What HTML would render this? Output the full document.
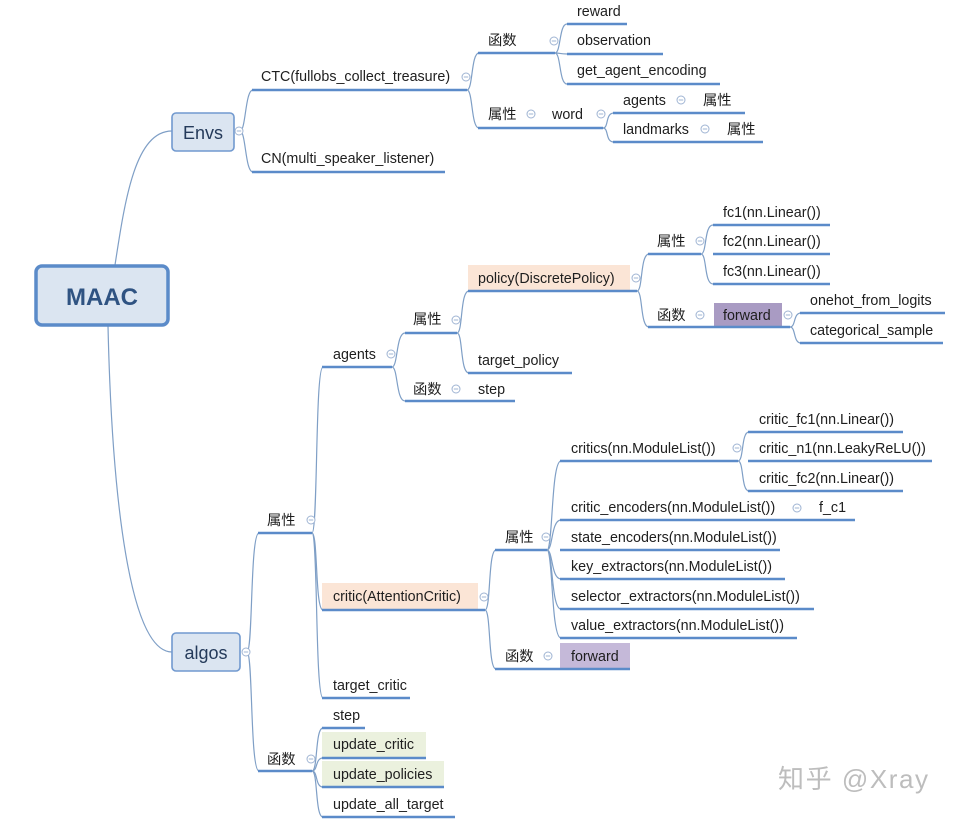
<!DOCTYPE html>
<html><head><meta charset="utf-8"><style>
html,body{margin:0;padding:0;background:#fff;}
svg text{font-family:"Liberation Sans","Noto Sans CJK SC",sans-serif;font-size:14.3px;fill:#1e1e1e;}
.u{stroke:#5b8bc9;stroke-width:2.5;fill:none}
.c{stroke:#7f9fc6;stroke-width:1.2;fill:none}
.o{fill:#fff;stroke:#9fb4d3;stroke-width:1}
.m{stroke:#9fb4d3;stroke-width:1}
</style></head><body>
<svg width="953" height="822" viewBox="0 0 953 822" xmlns="http://www.w3.org/2000/svg">
<defs>
<g id="ci"><circle class="o" cx="0" cy="0" r="4"/><line class="m" x1="-2.2" y1="0" x2="2.2" y2="0"/></g>
</defs>
<rect x="468" y="265" width="162" height="26" fill="#fbe5d6"/>
<rect x="322" y="583" width="156" height="27" fill="#fbe5d6"/>
<rect x="714" y="303" width="68" height="24" fill="#a99bc3"/>
<rect x="560" y="643" width="70" height="26" fill="#c5b9d9"/>
<rect x="322" y="732" width="104" height="26" fill="#ebf1de"/>
<rect x="322" y="761" width="122" height="26" fill="#ebf1de"/>

<g class="c">
<path d="M115 265 C125 200 135 131 172 131"/>
<path d="M108 326 C112 500 130 652 172 652"/>
<path d="M240 131 C246 131 245 90 253 90"/>
<path d="M240 131 C246 131 245 172 253 172"/>
<path d="M467 90 C473 90 471 53 479 53"/>
<path d="M467 90 C473 90 471 128 479 128"/>
<path d="M555 53 C561 53 559 24 567 24"/>
<path d="M555 53 C561 53 559 54 567 54"/>
<path d="M555 53 C561 53 559 84 567 84"/>
<path d="M603 128 C609 128 605 113 614 113"/>
<path d="M603 128 C609 128 605 142 614 142"/>
<path d="M247 652 C253 652 250 533 259 533"/>
<path d="M247 652 C253 652 250 771 259 771"/>
<path d="M312 533 C318 533 315 367 323 367"/>
<path d="M312 533 C318 533 315 610 323 610"/>
<path d="M312 533 C318 533 315 698 323 698"/>
<path d="M312 771 C318 771 315 728 323 728"/>
<path d="M312 771 C318 771 315 758 323 758"/>
<path d="M312 771 C318 771 315 787 323 787"/>
<path d="M312 771 C318 771 315 817 323 817"/>
<path d="M392 367 C398 367 396 333 405 333"/>
<path d="M392 367 C398 367 396 401 405 401"/>
<path d="M457 333 C463 333 460 291 469 291"/>
<path d="M457 333 C463 333 460 373 469 373"/>
<path d="M637 291 C643 291 640 254 649 254"/>
<path d="M637 291 C643 291 640 327 649 327"/>
<path d="M701 254 C707 254 704 225 713 225"/>
<path d="M701 254 C707 254 704 284 713 284"/>
<path d="M790 327 C796 327 793 313 801 313"/>
<path d="M790 327 C796 327 793 343 801 343"/>
<path d="M485 610 C491 610 488 550 496 550"/>
<path d="M485 610 C491 610 488 669 496 669"/>
<path d="M547 550 C553 550 551 461 561 461"/>
<path d="M547 550 C553 550 551 520 561 520"/>
<path d="M547 550 C553 550 551 579 561 579"/>
<path d="M547 550 C553 550 551 609 561 609"/>
<path d="M547 550 C553 550 551 638 561 638"/>
<path d="M738 461 C744 461 741 432 749 432"/>
<path d="M738 461 C744 461 741 491 749 491"/>
</g>

<g class="u">
<line x1="252" y1="90" x2="467" y2="90"/>
<line x1="252" y1="172" x2="445" y2="172"/>
<line x1="478" y1="53" x2="555" y2="53"/>
<line x1="567" y1="24" x2="627" y2="24"/>
<line x1="567" y1="54" x2="663" y2="54"/>
<line x1="567" y1="84" x2="720" y2="84"/>
<line x1="478" y1="128" x2="603" y2="128"/>
<line x1="613" y1="113" x2="745" y2="113"/>
<line x1="613" y1="142" x2="763" y2="142"/>
<line x1="258" y1="533" x2="312" y2="533"/>
<line x1="258" y1="771" x2="312" y2="771"/>
<line x1="322" y1="367" x2="392" y2="367"/>
<line x1="322" y1="610" x2="485" y2="610"/>
<line x1="322" y1="698" x2="410" y2="698"/>
<line x1="322" y1="728" x2="365" y2="728"/>
<line x1="322" y1="758" x2="426" y2="758"/>
<line x1="322" y1="787" x2="444" y2="787"/>
<line x1="322" y1="817" x2="455" y2="817"/>
<line x1="405" y1="333" x2="457" y2="333"/>
<line x1="405" y1="401" x2="515" y2="401"/>
<line x1="468" y1="291" x2="637" y2="291"/>
<line x1="468" y1="373" x2="572" y2="373"/>
<line x1="648" y1="254" x2="701" y2="254"/>
<line x1="713" y1="225" x2="830" y2="225"/>
<line x1="713" y1="254" x2="830" y2="254"/>
<line x1="713" y1="284" x2="830" y2="284"/>
<line x1="648" y1="327" x2="790" y2="327"/>
<line x1="800" y1="313" x2="945" y2="313"/>
<line x1="800" y1="343" x2="943" y2="343"/>
<line x1="495" y1="550" x2="547" y2="550"/>
<line x1="495" y1="669" x2="630" y2="669"/>
<line x1="560" y1="461" x2="738" y2="461"/>
<line x1="748" y1="432" x2="903" y2="432"/>
<line x1="748" y1="461" x2="932" y2="461"/>
<line x1="748" y1="491" x2="903" y2="491"/>
<line x1="560" y1="520" x2="855" y2="520"/>
<line x1="560" y1="550" x2="780" y2="550"/>
<line x1="560" y1="579" x2="785" y2="579"/>
<line x1="560" y1="609" x2="814" y2="609"/>
<line x1="560" y1="638" x2="797" y2="638"/>
</g>

<rect x="36" y="266" width="132" height="59" rx="6" fill="#dbe5f1" stroke="#5b8bc9" stroke-width="3.5"/>
<text x="102" y="305" text-anchor="middle" style="font-size:24px;font-weight:bold;fill:#2f5382">MAAC</text>
<rect x="172" y="113" width="62" height="38" rx="4" fill="#dbe5f1" stroke="#7199cf" stroke-width="1.6"/>
<text x="203" y="139" text-anchor="middle" style="font-size:18px;fill:#243a5a">Envs</text>
<rect x="172" y="633" width="68" height="38" rx="4" fill="#dbe5f1" stroke="#7199cf" stroke-width="1.6"/>
<text x="206" y="659" text-anchor="middle" style="font-size:18px;fill:#243a5a">algos</text>

<use href="#ci" x="239" y="131"/>
<use href="#ci" x="466" y="77"/>
<use href="#ci" x="554" y="41"/>
<use href="#ci" x="531" y="114"/>
<use href="#ci" x="601" y="114"/>
<use href="#ci" x="681" y="100"/>
<use href="#ci" x="705" y="129"/>
<use href="#ci" x="246" y="652"/>
<use href="#ci" x="311" y="520"/>
<use href="#ci" x="311" y="759"/>
<use href="#ci" x="391" y="354"/>
<use href="#ci" x="456" y="320"/>
<use href="#ci" x="456" y="389"/>
<use href="#ci" x="636" y="278"/>
<use href="#ci" x="700" y="241"/>
<use href="#ci" x="700" y="315"/>
<use href="#ci" x="788" y="315"/>
<use href="#ci" x="484" y="597"/>
<use href="#ci" x="546" y="537"/>
<use href="#ci" x="548" y="656"/>
<use href="#ci" x="737" y="448"/>
<use href="#ci" x="797" y="508"/>

<text x="261" y="81">CTC(fullobs_collect_treasure)</text>
<text x="261" y="163">CN(multi_speaker_listener)</text>
<text x="488" y="45">函数</text>
<text x="577" y="16">reward</text>
<text x="577" y="45">observation</text>
<text x="577" y="75">get_agent_encoding</text>
<text x="488" y="119">属性</text>
<text x="552" y="119">word</text>
<text x="623" y="105">agents</text>
<text x="703" y="105">属性</text>
<text x="623" y="134">landmarks</text>
<text x="727" y="134">属性</text>
<text x="267" y="525">属性</text>
<text x="267" y="764">函数</text>
<text x="333" y="359">agents</text>
<text x="413" y="324">属性</text>
<text x="413" y="394">函数</text>
<text x="478" y="394">step</text>
<text x="478" y="283">policy(DiscretePolicy)</text>
<text x="478" y="365">target_policy</text>
<text x="657" y="246">属性</text>
<text x="723" y="217">fc1(nn.Linear())</text>
<text x="723" y="246">fc2(nn.Linear())</text>
<text x="723" y="276">fc3(nn.Linear())</text>
<text x="657" y="320">函数</text>
<text x="723" y="320">forward</text>
<text x="810" y="305">onehot_from_logits</text>
<text x="810" y="335">categorical_sample</text>
<text x="333" y="601">critic(AttentionCritic)</text>
<text x="333" y="690">target_critic</text>
<text x="333" y="720">step</text>
<text x="333" y="749">update_critic</text>
<text x="333" y="779">update_policies</text>
<text x="333" y="809">update_all_target</text>
<text x="505" y="542">属性</text>
<text x="505" y="661">函数</text>
<text x="571" y="661">forward</text>
<text x="571" y="453">critics(nn.ModuleList())</text>
<text x="759" y="424">critic_fc1(nn.Linear())</text>
<text x="759" y="453">critic_n1(nn.LeakyReLU())</text>
<text x="759" y="483">critic_fc2(nn.Linear())</text>
<text x="571" y="512">critic_encoders(nn.ModuleList())</text>
<text x="819" y="512">f_c1</text>
<text x="571" y="542">state_encoders(nn.ModuleList())</text>
<text x="571" y="571">key_extractors(nn.ModuleList())</text>
<text x="571" y="601">selector_extractors(nn.ModuleList())</text>
<text x="571" y="630">value_extractors(nn.ModuleList())</text>

<text x="778" y="788" textLength="150" lengthAdjust="spacing" style="font-size:26px;fill:#bdbdbd">知乎 @Xray</text>
</svg>
</body></html>
